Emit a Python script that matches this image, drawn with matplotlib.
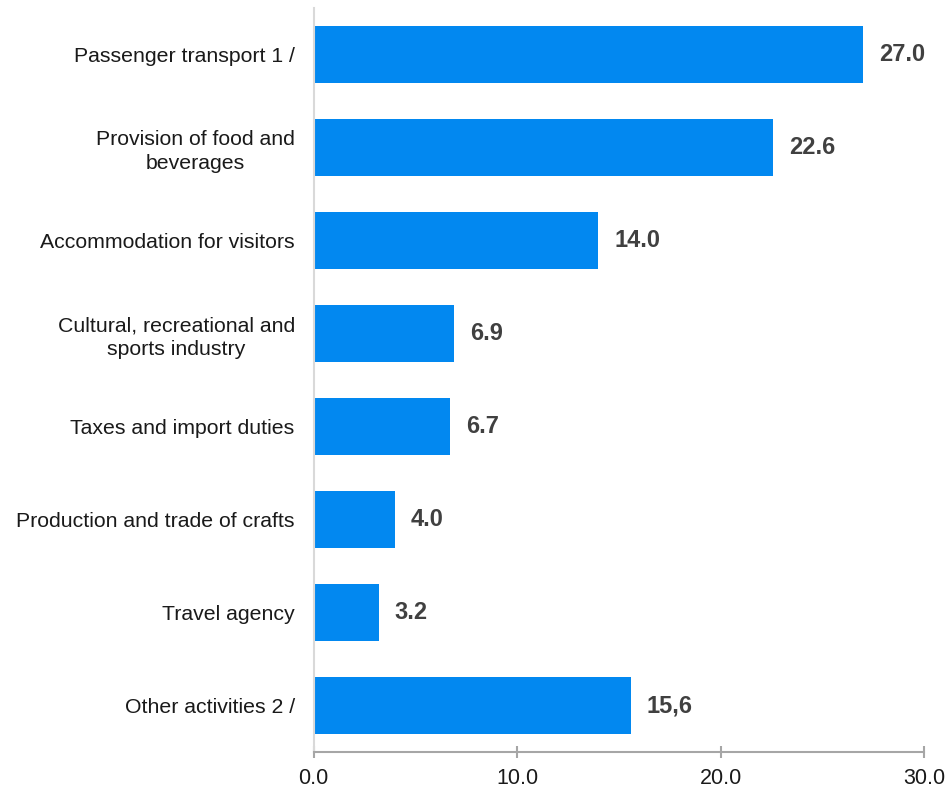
import matplotlib
matplotlib.use("Agg")
import matplotlib.pyplot as plt

categories = [
    "Passenger transport 1 /",
    "Provision of food and\nbeverages",
    "Accommodation for visitors",
    "Cultural, recreational and\nsports industry",
    "Taxes and import duties",
    "Production and trade of crafts",
    "Travel agency",
    "Other activities 2 /",
]
values = [27.0, 22.6, 14.0, 6.9, 6.7, 4.0, 3.2, 15.6]
value_labels = ["27.0", "22.6", "14.0", "6.9", "6.7", "4.0", "3.2", "15,6"]
x_ticks = [0, 10, 20, 30]
x_tick_labels = ["0.0", "10.0", "20.0", "30.0"]

plt.rcParams["font.family"] = ["Liberation Sans", "DejaVu Sans"]

W, H = 949, 788
fig = plt.figure(figsize=(W / 100, H / 100), dpi=100)
ax = fig.add_axes([313.5 / W, 1 - 752 / H, (924 - 313.5) / W, (752 - 8) / H])

positions = list(range(len(categories)))
ax.barh(positions, values, height=0.62, color="#0288F0", zorder=2)

for y, v, lab in zip(positions, values, value_labels):
    ax.annotate(lab, xy=(v, y), xytext=(11.5, 0), textcoords="offset points",
                ha="left", va="center", fontsize=17, fontweight="bold",
                color="#404040")

ax.set_xlim(0, 30)
ax.set_ylim(len(categories) - 0.5, -0.5)

ax.set_yticks(positions)
ax.set_yticklabels(categories, fontsize=15.3, color="#1a1a1a", ha="right",
                   multialignment="center", linespacing=1.3)
ax.tick_params(axis="y", length=0, pad=13.5)

ax.set_xticks(x_ticks)
ax.set_xticklabels(x_tick_labels, fontsize=15.5, color="#1a1a1a")
ax.tick_params(axis="x", direction="inout", length=9, width=1.5,
               color="#a6a6a6", pad=7)

for side in ("top", "right"):
    ax.spines[side].set_visible(False)
ax.spines["bottom"].set_color("#a6a6a6")
ax.spines["bottom"].set_linewidth(1.5)
ax.spines["left"].set_color("#d9d9d9")
ax.spines["left"].set_linewidth(1.5)

fig.savefig("out.png", dpi=100)
